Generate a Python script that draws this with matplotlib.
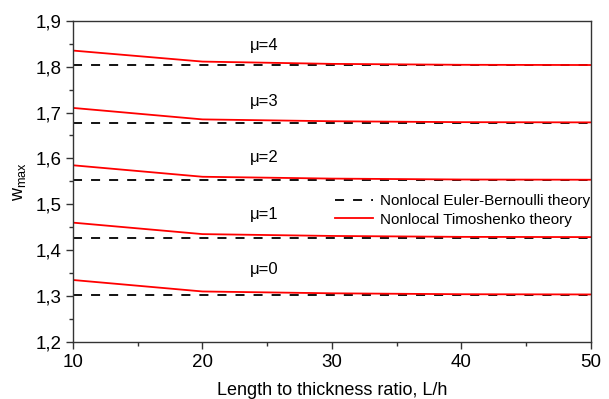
import numpy as np
import matplotlib.pyplot as plt
from matplotlib.ticker import MultipleLocator, FuncFormatter

plt.rcParams['font.family'] = ['Liberation Sans', 'DejaVu Sans']

# data
ratio = [10, 20, 30, 40, 50]
mu = [0, 1, 2, 3, 4]
euler = [1.3025, 1.4275, 1.5525, 1.6775, 1.8025]
timo = [
    [1.335, 1.310, 1.306, 1.304, 1.3035],
    [1.460, 1.435, 1.431, 1.429, 1.4285],
    [1.585, 1.560, 1.556, 1.554, 1.5535],
    [1.710, 1.685, 1.681, 1.679, 1.6785],
    [1.835, 1.811, 1.806, 1.804, 1.8035],
]
label_y = [1.357, 1.477, 1.601, 1.725, 1.847]

fig = plt.figure(figsize=(6.09, 3.99), dpi=100)
ax = fig.add_axes([0.120, 0.143, 0.850, 0.805])

for i in range(len(mu)):
    ax.plot(ratio, [euler[i]] * len(ratio), color='black', lw=1.3,
            dashes=(5, 5), label='Nonlocal Euler-Bernoulli theory' if i == 0 else None)
    ax.plot(ratio, timo[i], color='red', lw=1.3,
            label='Nonlocal Timoshenko theory' if i == 0 else None)
    ax.text(24.8, label_y[i], '\u03bc=%d' % mu[i], fontsize=12, ha='center', va='center')

ax.set_xlim(10, 50)
ax.set_ylim(1.2, 1.9)
ax.xaxis.set_major_locator(MultipleLocator(10))
ax.xaxis.set_minor_locator(MultipleLocator(5))
ax.yaxis.set_major_locator(MultipleLocator(0.1))
ax.yaxis.set_minor_locator(MultipleLocator(0.05))
ax.yaxis.set_major_formatter(FuncFormatter(lambda v, p: ('%.1f' % v).replace('.', ',')))

for s in ax.spines.values():
    s.set_color('#333333')
    s.set_linewidth(1.0)
ax.tick_params(which='major', direction='out', length=5, width=1, color='#333333',
               labelsize=13.5, pad=3)
ax.tick_params(axis='x', which='major', pad=4)
ax.tick_params(which='minor', direction='out', length=3, width=1, color='#333333')

ax.set_xlabel('Length to thickness ratio, L/h', fontsize=13)
ax.xaxis.set_label_coords(0.5, -0.125)
ax.set_ylabel('w$_{\\mathregular{max}}$', fontsize=13, labelpad=6)

ax.legend(loc='center left', bbox_to_anchor=(0.48, 0.41), frameon=False, fontsize=11,
          handlelength=2.5, handletextpad=0.4, labelspacing=0.3)

fig.savefig('out.png', dpi=100)
